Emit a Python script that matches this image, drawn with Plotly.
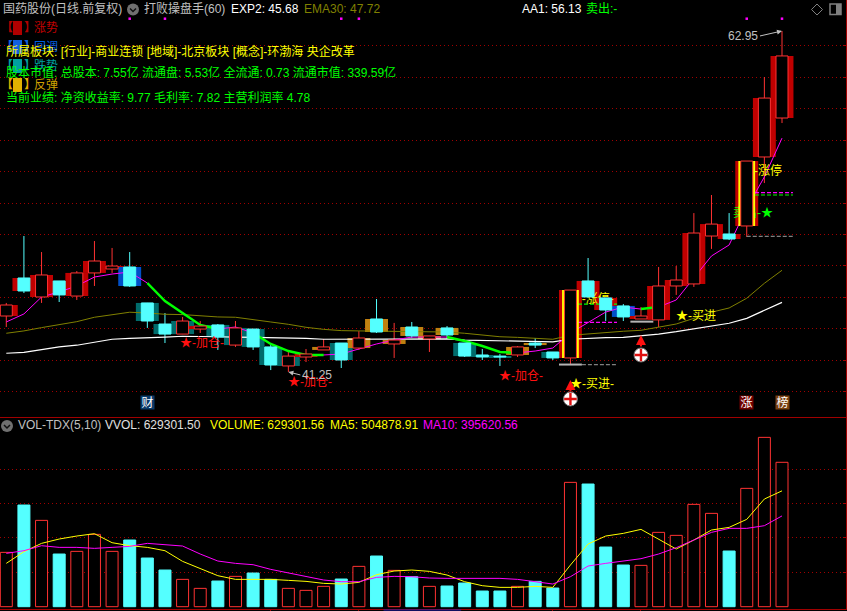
import plotly.graph_objects as go

# ---- data ----
opens  = [44.81,47.23,46.02,47.04,46.08,47.55,47.80,47.93,45.64,44.30,43.66,43.98,44.24,42.96,43.98,42.84,41.63,42.20,42.65,43.09,42.77,44.62,43.03,44.11,43.35,44.05,43.09,42.33,42.26,42.33,43.09,42.52,42.14,47.04,45.96,45.45,44.62,44.56,46.72,46.85,49.90,50.03,50.54,54.93,57.41]
closes = [45.51,46.40,47.42,46.15,47.55,48.31,47.99,46.72,44.49,43.66,44.49,44.17,43.47,44.05,42.84,41.69,42.26,42.39,42.84,42.01,43.41,43.79,43.28,43.54,43.54,43.60,42.26,42.20,42.20,42.84,42.96,42.14,46.46,46.02,45.19,44.75,44.81,46.72,47.10,50.09,50.66,49.71,54.67,58.68,61.36]
highs  = [45.64,49.90,48.88,47.04,47.67,49.58,49.14,48.88,45.64,45.00,44.75,44.49,44.30,44.49,43.98,43.09,42.65,42.71,43.35,43.09,43.85,45.89,44.37,44.43,43.54,44.17,43.09,42.71,42.39,42.90,43.41,42.52,46.46,48.50,45.96,45.57,45.38,47.93,47.99,51.36,52.51,51.36,54.67,60.02,62.95]
lows   = [44.11,46.27,45.64,45.70,45.83,46.72,47.55,46.66,44.05,43.09,43.66,43.73,42.65,42.84,42.65,41.37,41.25,41.88,42.65,41.50,42.65,43.73,42.14,43.41,42.52,43.35,42.20,42.01,41.63,42.20,42.77,42.01,41.69,46.02,44.49,44.49,44.62,44.11,46.15,46.66,49.08,49.65,49.84,53.27,57.09]
states = list("RRRRRRRBTTTRTTTTTRGTGGGGGGTTTGGTRRRBRRRRRRRRR")
limit_up = [32, 42]
exp2   = [42.44,42.50,42.67,42.84,42.95,43.14,43.33,43.39,43.45,43.47,43.52,43.52,43.49,43.47,43.45,43.45,43.39,43.39,43.33,43.33,43.33,43.33,43.33,43.33,43.35,43.35,43.28,43.26,43.24,43.20,43.17,43.16,43.33,43.39,43.43,43.45,43.54,43.66,43.81,43.98,44.17,44.35,44.66,45.15,45.68]
ema30  = [43.71,43.86,44.07,44.24,44.45,44.73,44.90,45.05,45.00,44.92,44.90,44.81,44.75,44.73,44.60,44.43,44.28,44.09,43.96,43.88,43.86,43.84,43.84,43.81,43.81,43.79,43.71,43.60,43.49,43.45,43.41,43.33,43.58,43.68,43.77,43.84,43.90,44.09,44.30,44.66,45.05,45.32,45.94,46.89,47.72]
aa1    = [44.43,44.94,46.02,46.34,46.72,47.29,47.48,47.61,46.91,45.76,45.00,44.24,43.98,44.11,43.73,43.03,42.58,42.33,42.33,42.39,42.71,43.03,43.28,43.47,43.47,43.47,43.22,42.90,42.52,42.46,42.58,42.77,43.73,44.37,45.06,45.38,45.25,45.38,45.83,47.23,48.63,49.33,51.68,53.66,56.13]
aa1_green = [8,9,10,11,12,14,15,16,17,18,25,26,27,28,29,36,37]
signal_days = [7,9,19,20,42,44]
signal_level = 63.73
volume = [236790,443070,376250,229530,241150,315240,241150,290540,212090,159800,119120,79900,111860,132200,146720,119120,79900,71180,88610,120570,175780,220810,158340,130740,88610,90070,103140,68280,68280,88610,110400,81350,541860,534590,260030,181590,180130,323950,310880,445980,406760,242600,515710,737970,629301.56]
ma5    = [188850,239700,276010,294900,307970,318140,278920,265840,258580,244050,197570,167060,135100,119120,119120,119120,114760,110400,101690,98780,106050,139460,155440,159800,153990,138010,108950,91520,84260,84260,88610,84260,181590,273110,307970,319590,337030,293450,251320,290540,334120,345740,380610,469220,504878.91]
ma10   = [232430,244050,265840,258580,258580,254220,258580,262940,276010,271650,264390,229530,199020,188850,183040,162700,148180,130740,116220,108950,108950,127840,132200,130740,124930,123480,123480,123480,123480,119120,108950,98780,130740,177230,188850,199020,209190,229530,257130,290540,323950,341380,341380,353010,395620.56]
price_grid = [40,42,44,46,48,50,52,54,56,58,60,62]
vol_grid = [150000,300000,450000,600000]
level_lines = [  # x0, x1, price, colour, dash
    (31.35,32.65,41.72,"#b4b4b4","solid"),(32.65,34.64,41.72,"#808080","dash"),
    (32.43,34.64,44.41,"#ff00ff","dash"),(32.43,34.64,45.57,"#00ff00","dash"),
    (35.40,36.70,44.45,"#b4b4b4","solid"),(42.00,44.62,49.88,"#808080","dash"),
    (42.47,44.62,52.66,"#ff00ff","dash"),(42.47,44.62,52.51,"#00ff00","dash"),
]

# ---- styling ----
FONT = "Liberation Sans, Noto Sans CJK SC"
RED, CYAN = "#ff3232", "#54ffff"
BG = {"R": "#c00000", "B": "#0050c8", "T": "#006c6c", "G": "#c08010"}
GRID = "#a00000"
W, H = 846.0, 609.0
SPLIT = 417.0
days = list(range(len(opens)))
is_up = [c >= o for o, c in zip(opens, closes)]
bottoms = [min(o, c) for o, c in zip(opens, closes)]
heights = [abs(c - o) for o, c in zip(opens, closes)]

def py(v):  # pixel y to paper
    return 1 - v / H
def px(v):
    return v / W

fig = go.Figure()
# wide state bars
fig.add_trace(go.Bar(x=days, y=heights, base=bottoms, width=1.30,
                     marker=dict(color=[BG[s] for s in states], line_width=0), xaxis="x", yaxis="y"))
# wicks
for flag, col in ((True, RED), (False, CYAN)):
    xs, ys = [], []
    for d, h, l, u in zip(days, highs, lows, is_up):
        if u == flag:
            xs += [d, d, None]; ys += [l, h, None]
    fig.add_trace(go.Scatter(x=xs, y=ys, mode="lines", line=dict(color=col, width=1), xaxis="x", yaxis="y"))
# averages
fig.add_trace(go.Scatter(x=days, y=ema30, mode="lines", line=dict(color="#808000", width=1), xaxis="x", yaxis="y"))
fig.add_trace(go.Scatter(x=days, y=exp2, mode="lines", line=dict(color="#ffffff", width=1.2), xaxis="x", yaxis="y"))
fig.add_trace(go.Scatter(x=days, y=aa1, mode="lines", line=dict(color="#ff00ff", width=1), xaxis="x", yaxis="y"))
fig.add_trace(go.Scatter(x=days, y=[v if d in aa1_green else None for d, v in zip(days, aa1)], mode="lines",
                         line=dict(color="#00ff00", width=2.5), xaxis="x", yaxis="y"))
for x0, x1, p, col, dash in level_lines:
    fig.add_trace(go.Scatter(x=[x0, x1], y=[p, p], mode="lines",
                             line=dict(color=col, width=2 if dash == "solid" else 1.2, dash="4px,2px" if dash == "dash" else "solid"),
                             xaxis="x", yaxis="y"))
# text that sits under the candle bodies
fig.add_trace(go.Scatter(x=[33.55, 43.2], y=[45.83, 54.0], mode="text", text=["-涨停-", "-涨停"],
                         textfont=dict(family=FONT, size=12, color="#ffff00"), xaxis="x", yaxis="y"))
fig.add_trace(go.Scatter(x=[42.35], y=[51.33], mode="text", text=["卖出-★"],
                         textfont=dict(family=FONT, size=12, color="#00ff00"), xaxis="x", yaxis="y"))
# narrow candle bodies on an overlaid axis so they cover lines
fig.add_trace(go.Bar(x=limit_up, y=[heights[d] for d in limit_up], base=[bottoms[d] for d in limit_up], width=0.95,
                     marker=dict(color="#ffff00", line_width=0), xaxis="x", yaxis="y3"))
fig.add_trace(go.Bar(x=days, y=heights, base=bottoms, width=0.68,
                     marker=dict(color=["#000000" if u else CYAN for u in is_up],
                                 line=dict(color=[RED if u else CYAN for u in is_up], width=1)), xaxis="x", yaxis="y3"))
# signals
fig.add_trace(go.Scatter(x=signal_days, y=[signal_level] * len(signal_days), mode="markers",
                         marker=dict(symbol="square", size=2.5, color="#ff00ff"), xaxis="x", yaxis="y3"))
fig.add_trace(go.Scatter(x=[32, 36], y=[39.53, 42.33], mode="markers",
                         marker=dict(symbol="circle", size=14, color="#ffffff", line=dict(color="#707070", width=1)), xaxis="x", yaxis="y3"))
fig.add_trace(go.Scatter(x=[32, 36], y=[39.53, 42.33], mode="markers",
                         marker=dict(symbol="cross-thin", size=9, line=dict(color="#e01010", width=2.4)), xaxis="x", yaxis="y3"))
# volume
fig.add_trace(go.Bar(x=days, y=volume, width=0.68,
                     marker=dict(color=["#000000" if u else CYAN for u in is_up],
                                 line=dict(color=[RED if u else CYAN for u in is_up], width=1)), xaxis="x2", yaxis="y2"))
fig.add_trace(go.Scatter(x=days, y=ma5, mode="lines", line=dict(color="#ffff00", width=1), xaxis="x2", yaxis="y2"))
fig.add_trace(go.Scatter(x=days, y=ma10, mode="lines", line=dict(color="#ff00ff", width=1), xaxis="x2", yaxis="y2"))

# ---- text ----
ann = []
def paper_text(x, y, s, col, size=12, anchor="left"):
    ann.append(dict(xref="paper", yref="paper", x=px(x), y=py(y), text=s, showarrow=False, xanchor=anchor,
                    yanchor="middle", font=dict(family=FONT, size=size, color=col), borderpad=0))
def data_text(x, price, s, col):
    ann.append(dict(xref="x", yref="y", x=x, y=price, text=s, showarrow=False, xanchor="center",
                    yanchor="middle", font=dict(family=FONT, size=12, color=col), borderpad=0))

paper_text(2, 9, "国药股份(日线.前复权)", "#c0c0c0")
paper_text(143, 9, "打败操盘手(60)", "#c0c0c0")
paper_text(230, 9, "EXP2: 45.68", "#ffffff")
paper_text(303, 9, "EMA30: 47.72", "#808000")
paper_text(521, 9, "AA1: 56.13", "#ffffff")
paper_text(585, 9, "卖出:-", "#00ff00")
legend_rows = [(28, "涨势", "#c00000", "#b00000"), (47, "回调", "#0060e0", "#1060e0"),
               (66, "跌势", "#00a0a0", "#00a0a0"), (85, "反弹", "#d0a000", "#e0b000")]
shapes = []
for y, s, tc, bc in legend_rows:
    paper_text(33, y, s, tc)
    paper_text(0, y, "<b>【</b>", bc)
    paper_text(23, y, "<b>】</b>", bc)
    shapes.append(dict(type="rect", xref="paper", yref="paper", x0=px(13), x1=px(22), y0=py(y - 7), y1=py(y + 7),
                       fillcolor=bc, line_width=0, layer="above"))
paper_text(5, 51, "所属板块: [行业]-商业连锁 [地域]-北京板块 [概念]-环渤海 央企改革", "#ffff00")
paper_text(5, 73, "股本市值: 总股本: 7.55亿 流通盘: 5.53亿 全流通: 0.73 流通市值: 339.59亿", "#00ff00")
paper_text(5, 97, "当前业绩: 净资收益率: 9.77 毛利率: 7.82 主营利润率 4.78", "#00ff00")
paper_text(17, 425, "VOL-TDX(5,10)", "#c0c0c0")
paper_text(104, 425, "VVOL: 629301.50", "#e0e0e0")
paper_text(209, 425, "VOLUME: 629301.56", "#ffff00")
paper_text(329, 425, "MA5: 504878.91", "#ffff00")
paper_text(422, 425, "MA10: 395620.56", "#ff00ff")

data_text(11.1, 43.09, "★-加仓-", "#ff1010")
data_text(17.2, 40.63, "★-加仓-", "#ff1010")
data_text(29.2, 40.99, "★-加仓-", "#ff1010")
data_text(33.2, 40.48, "★-买进-", "#ffff00")
data_text(39.1, 44.81, "★-买进", "#ffff00")
ann.append(dict(xref="x", yref="y", x=44, y=62.95, ax=-22, ay=5, text="62.95", showarrow=True, arrowhead=2, arrowsize=1,
                arrowwidth=1, arrowcolor="#c0c0c0", xanchor="right", yanchor="middle",
                font=dict(family=FONT, size=12, color="#c0c0c0")))
ann.append(dict(xref="x", yref="y", x=16, y=41.25, ax=12, ay=3, text="41.25", showarrow=True, arrowhead=2, arrowsize=1,
                arrowwidth=1, arrowcolor="#c0c0c0", xanchor="left", yanchor="middle",
                font=dict(family=FONT, size=12, color="#c0c0c0")))
for d, p in ((32, 40.74), (36, 43.6)):
    ann.append(dict(xref="x", yref="y", x=d, y=p, ax=0, ay=13, text="", showarrow=True, arrowhead=2, arrowsize=1,
                    arrowwidth=2, arrowcolor="#ff1010"))
for d, s, col in ((8, "财", "#0a3a6a"), (42, "涨", "#700000"), (44, "榜", "#7a4010")):
    ann.append(dict(xref="x", yref="paper", x=d, y=py(409.5), text=s, showarrow=False, bgcolor=col, width=13, height=13,
                    font=dict(family=FONT, size=12, color="#ffffff"), borderpad=0))

# ---- icons ----
def circle_icon(cx, cy):
    shapes.append(dict(type="circle", xref="paper", yref="paper", x0=px(cx - 6), x1=px(cx + 6), y0=py(cy - 6), y1=py(cy + 6),
                       fillcolor="#707070", line_width=0, layer="above"))
    shapes.append(dict(type="path", xref="paper", yref="paper", layer="above", line=dict(color="#101010", width=1.5),
                       path=f"M {px(cx-3)} {py(cy-1)} L {px(cx)} {py(cy+2)} L {px(cx+3)} {py(cy-1)}"))
circle_icon(133, 9.5)
circle_icon(7, 426)
shapes.append(dict(type="path", xref="paper", yref="paper", layer="above", line=dict(color="#808080", width=1),
                   path=f"M {px(817)} {py(4)} L {px(822.5)} {py(9.5)} L {px(817)} {py(15)} L {px(811.5)} {py(9.5)} Z"))
shapes.append(dict(type="rect", xref="paper", yref="paper", layer="above", x0=px(830), x1=px(841), y0=py(4), y1=py(14.5),
                   line=dict(color="#808080", width=1.5), fillcolor="#000000"))
shapes.append(dict(type="rect", xref="paper", yref="paper", layer="above", x0=px(836), x1=px(841), y0=py(4), y1=py(14.5),
                   line_width=0, fillcolor="#808080"))
shapes.append(dict(type="line", xref="x", yref="paper", x0=21.4, x1=25.8, y0=py(610), y1=py(610),
                   line=dict(color="#2020c0", width=1), layer="above"))

x_range = [-0.357, 47.63]
p_top, p_bot = 64.92, 64.92 - 0.06364 * SPLIT
v_top, v_bot = (606.7 - SPLIT) * 4358, (606.7 - H) * 4358
split_frac = py(SPLIT)
yax = dict(showticklabels=False, showgrid=True, griddash="1px,3px", gridcolor=GRID, gridwidth=1, zeroline=False,
           side="right", showline=True, linecolor=GRID, ticks="inside", ticklen=3, tickcolor=GRID)
xax = dict(showticklabels=False, showgrid=False, zeroline=False, range=x_range, showline=True, linecolor=GRID)

fig.update_layout(
    width=847, height=611, margin=dict(l=0, r=1, t=0, b=2), autosize=False,
    paper_bgcolor="#000000", plot_bgcolor="#000000", showlegend=False, barmode="overlay", hovermode=False,
    xaxis=dict(**xax, domain=[0, 1], anchor="y"),
    xaxis2=dict(**xax, domain=[0, 1], anchor="y2", ticks="outside", ticklen=2, tickcolor=GRID, tickvals=[15, 20, 31, 36]),
    yaxis=dict(**yax, domain=[split_frac, 1], range=[p_bot, p_top], tickvals=price_grid, anchor="x"),
    yaxis2=dict(**yax, domain=[0, split_frac], range=[v_bot, v_top], tickvals=vol_grid, anchor="x2"),
    yaxis3=dict(overlaying="y", range=[p_bot, p_top], visible=False, side="right", anchor="x"),
    annotations=ann, shapes=shapes,
)
fig.write_html("out.html", config={"displayModeBar": False},
               post_script="document.body.style.margin='0';document.body.style.background='#000';document.body.style.overflow='hidden';")
